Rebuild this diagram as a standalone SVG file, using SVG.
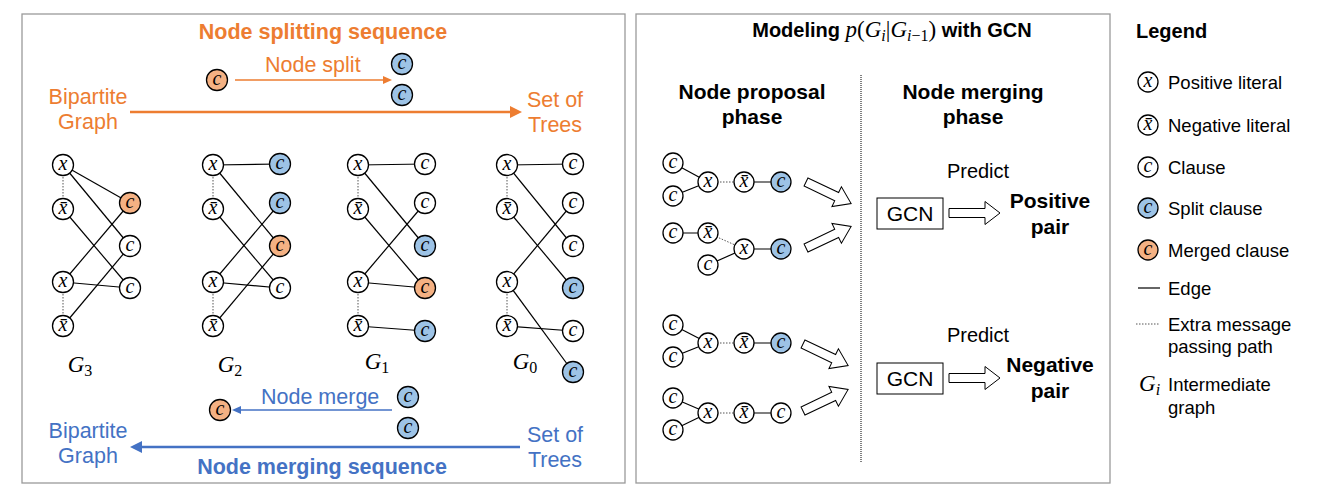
<svg xmlns="http://www.w3.org/2000/svg" xmlns:xlink="http://www.w3.org/1999/xlink" width="1323" height="498" viewBox="0 0 1323 498">
<style>
.n{fill:#fff;stroke:#000;stroke-width:1.3}
.nb{fill:#9DC3E6;stroke:#000;stroke-width:1.3}
.no{fill:#F4B183;stroke:#000;stroke-width:1.3}
.lt{font-family:"Liberation Serif","DejaVu Serif",serif;font-style:italic;font-size:20px;text-anchor:middle;fill:#000}
.e{stroke:#000;stroke-width:1.2;fill:none}
.d{stroke:#555;stroke-width:1;stroke-dasharray:1.5 1.5;fill:none}
.sans{font-family:"Liberation Sans",Arial,sans-serif}
.or{fill:#ED7D31;font-size:21.5px}
.bl{fill:#4472C4;font-size:21.5px}
.b{font-weight:bold}
.mid{text-anchor:middle}
.lg{font-size:18.5px;fill:#000}
.ha{fill:#fff;stroke:#000;stroke-width:1}
.math{font-family:"Liberation Serif","DejaVu Serif",serif;font-style:italic;font-weight:normal}
.up{font-style:normal}
.panel{fill:none;stroke:#9a9a9a;stroke-width:1.3}
</style>
<defs>
<marker id="aoT" viewBox="0 0 12 12" refX="4" refY="6" markerWidth="12" markerHeight="12" markerUnits="userSpaceOnUse" orient="auto"><path d="M0,0 L12,6 L0,12 z" fill="#ED7D31"/></marker>
<marker id="aot" viewBox="0 0 9 8" refX="3" refY="4" markerWidth="9" markerHeight="8" markerUnits="userSpaceOnUse" orient="auto"><path d="M0,0 L9,4 L0,8 z" fill="#ED7D31"/></marker>
<marker id="abT" viewBox="0 0 12 12" refX="4" refY="6" markerWidth="12" markerHeight="12" markerUnits="userSpaceOnUse" orient="auto"><path d="M0,0 L12,6 L0,12 z" fill="#4472C4"/></marker>
<marker id="abt" viewBox="0 0 9 8" refX="3" refY="4" markerWidth="9" markerHeight="8" markerUnits="userSpaceOnUse" orient="auto"><path d="M0,0 L9,4 L0,8 z" fill="#4472C4"/></marker>
<path id="hollow" class="ha" d="M0,-4.5 H34 V-11 L50,0 L34,11 V4.5 H0 Z"/>
<path id="hollow2" class="ha" d="M0,-4.5 H36 V-11.5 L51,0 L36,11.5 V4.5 H0 Z"/>
</defs>

<rect class="panel" x="22" y="14" width="603" height="469"/>
<rect class="panel" x="636" y="14" width="474" height="469"/>
<line x1="861" y1="75" x2="861" y2="463" stroke="#000" stroke-width="1" stroke-dasharray="1 1"/>

<!-- Left panel texts -->
<text class="sans or b mid" x="323" y="39">Node splitting sequence</text>
<text class="sans or" x="265" y="72">Node split</text>
<text class="sans or mid" x="88" y="104">Bipartite</text>
<text class="sans or mid" x="88" y="129">Graph</text>
<text class="sans or mid" x="555" y="107">Set of</text>
<text class="sans or mid" x="555" y="132">Trees</text>
<text class="sans bl" x="261" y="404">Node merge</text>
<text class="sans bl mid" x="88" y="438">Bipartite</text>
<text class="sans bl mid" x="88" y="463">Graph</text>
<text class="sans bl mid" x="555" y="442">Set of</text>
<text class="sans bl mid" x="555" y="467">Trees</text>
<text class="sans bl b mid" x="322" y="474">Node merging sequence</text>

<!-- Graph labels -->
<text class="math mid" font-size="23" x="80" y="372">G<tspan class="up" font-size="16" dy="4">3</tspan></text>
<text class="math mid" font-size="23" x="230" y="372">G<tspan class="up" font-size="16" dy="4">2</tspan></text>
<text class="math mid" font-size="23" x="377" y="369">G<tspan class="up" font-size="16" dy="4">1</tspan></text>
<text class="math mid" font-size="23" x="525" y="369">G<tspan class="up" font-size="16" dy="4">0</tspan></text>

<!-- Middle panel texts -->
<text class="sans b mid" font-size="20" x="892" y="37">Modeling <tspan class="math" font-size="23">p</tspan><tspan class="math up" font-size="23">(</tspan><tspan class="math" font-size="23">G</tspan><tspan class="math" font-size="16" dy="4">i</tspan><tspan class="math up" font-size="23" dy="-4">|</tspan><tspan class="math" font-size="23">G</tspan><tspan class="math" font-size="16" dy="4">i</tspan><tspan class="math up" font-size="16">−1</tspan><tspan class="math up" font-size="23" dy="-4">)</tspan> with GCN</text>
<text class="sans b mid" font-size="21" x="752" y="99">Node proposal</text>
<text class="sans b mid" font-size="21" x="752" y="124">phase</text>
<text class="sans b mid" font-size="21" x="973" y="99">Node merging</text>
<text class="sans b mid" font-size="21" x="973" y="124">phase</text>
<text class="sans mid" font-size="20" x="978" y="178">Predict</text>
<text class="sans b mid" font-size="21" x="1050" y="208">Positive</text>
<text class="sans b mid" font-size="21" x="1050" y="234">pair</text>
<text class="sans mid" font-size="20" x="978" y="342">Predict</text>
<text class="sans b mid" font-size="21" x="1050" y="372">Negative</text>
<text class="sans b mid" font-size="21" x="1050" y="398">pair</text>

<g id="gcn1"><rect x="877" y="198" width="66" height="31" fill="#fff" stroke="#000" stroke-width="1"/><text class="sans mid" font-size="21" x="910" y="221">GCN</text></g>
<g id="gcn2"><rect x="877" y="363" width="66" height="31" fill="#fff" stroke="#000" stroke-width="1"/><text class="sans mid" font-size="21" x="910" y="386">GCN</text></g>

<!-- Connectors -->
<g id="connectors">
<line x1="130" y1="112" x2="514" y2="112" stroke="#ED7D31" stroke-width="2.5" marker-end="url(#aoT)"/>
<line x1="235" y1="80" x2="386" y2="80" stroke="#ED7D31" stroke-width="1.5" marker-end="url(#aot)"/>
<line x1="392" y1="410" x2="238" y2="410" stroke="#4472C4" stroke-width="1.5" marker-end="url(#abt)"/>
<line x1="520" y1="447" x2="138" y2="447" stroke="#4472C4" stroke-width="2.5" marker-end="url(#abT)"/>
<!-- G3 -->
<line class="e" x1="63" y1="165" x2="130" y2="203"/><line class="e" x1="63" y1="165" x2="130" y2="246"/>
<line class="e" x1="63" y1="209" x2="130" y2="288"/><line class="e" x1="63" y1="282" x2="130" y2="203"/>
<line class="e" x1="63" y1="282" x2="130" y2="288"/><line class="e" x1="63" y1="326" x2="130" y2="246"/>
<line class="d" x1="63" y1="165" x2="63" y2="209"/><line class="d" x1="63" y1="282" x2="63" y2="326"/>
<!-- G2 -->
<line class="e" x1="213" y1="165" x2="280" y2="164"/><line class="e" x1="213" y1="165" x2="280" y2="246"/>
<line class="e" x1="213" y1="209" x2="280" y2="288"/><line class="e" x1="213" y1="282" x2="280" y2="203"/>
<line class="e" x1="213" y1="282" x2="280" y2="288"/><line class="e" x1="213" y1="326" x2="280" y2="246"/>
<line class="d" x1="213" y1="165" x2="213" y2="209"/><line class="d" x1="213" y1="282" x2="213" y2="326"/>
<!-- G1 -->
<line class="e" x1="358" y1="165" x2="425" y2="164"/><line class="e" x1="358" y1="165" x2="425" y2="246"/>
<line class="e" x1="358" y1="209" x2="425" y2="288"/><line class="e" x1="358" y1="282" x2="425" y2="203"/>
<line class="e" x1="358" y1="282" x2="425" y2="288"/><line class="e" x1="358" y1="326" x2="425" y2="331"/>
<line class="d" x1="358" y1="165" x2="358" y2="209"/><line class="d" x1="358" y1="282" x2="358" y2="326"/>
<!-- G0 -->
<line class="e" x1="507" y1="165" x2="573" y2="164"/><line class="e" x1="507" y1="165" x2="573" y2="246"/>
<line class="e" x1="507" y1="209" x2="573" y2="288"/><line class="e" x1="507" y1="282" x2="573" y2="203"/>
<line class="e" x1="507" y1="282" x2="573" y2="372"/><line class="e" x1="507" y1="326" x2="573" y2="331"/>
<line class="d" x1="507" y1="165" x2="507" y2="209"/><line class="d" x1="507" y1="282" x2="507" y2="326"/>
<!-- middle groups -->
<line class="e" x1="673" y1="163" x2="708" y2="182"/><line class="e" x1="673" y1="196" x2="708" y2="182"/>
<line class="d" x1="708" y1="182" x2="744" y2="182"/><line class="e" x1="744" y1="182" x2="781" y2="182"/>
<line class="e" x1="673" y1="233" x2="708" y2="233"/><line class="d" x1="708" y1="233" x2="744" y2="249"/>
<line class="e" x1="708" y1="265" x2="744" y2="249"/><line class="e" x1="744" y1="249" x2="781" y2="249"/>
<line class="e" x1="673" y1="325" x2="708" y2="343"/><line class="e" x1="673" y1="357" x2="708" y2="343"/>
<line class="d" x1="708" y1="343" x2="744" y2="343"/><line class="e" x1="744" y1="343" x2="781" y2="343"/>
<line class="e" x1="673" y1="398" x2="708" y2="413"/><line class="e" x1="673" y1="430" x2="708" y2="413"/>
<line class="d" x1="708" y1="413" x2="744" y2="413"/><line class="e" x1="744" y1="413" x2="781" y2="413"/>
<use xlink:href="#hollow" transform="translate(806,182) rotate(25.5)"/>
<use xlink:href="#hollow" transform="translate(806,248) rotate(-25.5)"/>
<use xlink:href="#hollow" transform="translate(803,344) rotate(25.5)"/>
<use xlink:href="#hollow" transform="translate(803,411) rotate(-25.5)"/>
<use xlink:href="#hollow2" transform="translate(949,213)"/>
<use xlink:href="#hollow2" transform="translate(949,378)"/>
</g>

<!-- Top / bottom small nodes -->
<g id="split-src"><circle class="no" cx="217" cy="80" r="10.5"/><text class="lt" x="217" y="85">c</text></g>
<g id="split-dst1"><circle class="nb" cx="402" cy="64" r="10.5"/><text class="lt" x="402" y="69">c</text></g>
<g id="split-dst2"><circle class="nb" cx="402" cy="95" r="10.5"/><text class="lt" x="402" y="100">c</text></g>
<g id="merge-src1"><circle class="nb" cx="408" cy="397" r="10.5"/><text class="lt" x="408" y="402">c</text></g>
<g id="merge-src2"><circle class="nb" cx="408" cy="428" r="10.5"/><text class="lt" x="408" y="433">c</text></g>
<g id="merge-dst"><circle class="no" cx="220" cy="410" r="10.5"/><text class="lt" x="220" y="415">c</text></g>

<!-- G3 nodes -->
<g id="g3-x1"><circle class="n" cx="63" cy="165" r="10.5"/><text class="lt" x="63" y="170">x</text></g>
<g id="g3-nx1"><circle class="n" cx="63" cy="209" r="10.5"/><text class="lt" x="63" y="214">x&#772;</text></g>
<g id="g3-x2"><circle class="n" cx="63" cy="282" r="10.5"/><text class="lt" x="63" y="287">x</text></g>
<g id="g3-nx2"><circle class="n" cx="63" cy="326" r="10.5"/><text class="lt" x="63" y="331">x&#772;</text></g>
<g id="g3-c1"><circle class="no" cx="130" cy="203" r="10.5"/><text class="lt" x="130" y="208">c</text></g>
<g id="g3-c2"><circle class="n" cx="130" cy="246" r="10.5"/><text class="lt" x="130" y="251">c</text></g>
<g id="g3-c3"><circle class="n" cx="130" cy="288" r="10.5"/><text class="lt" x="130" y="293">c</text></g>
<!-- G2 nodes -->
<g id="g2-x1"><circle class="n" cx="213" cy="165" r="10.5"/><text class="lt" x="213" y="170">x</text></g>
<g id="g2-nx1"><circle class="n" cx="213" cy="209" r="10.5"/><text class="lt" x="213" y="214">x&#772;</text></g>
<g id="g2-x2"><circle class="n" cx="213" cy="282" r="10.5"/><text class="lt" x="213" y="287">x</text></g>
<g id="g2-nx2"><circle class="n" cx="213" cy="326" r="10.5"/><text class="lt" x="213" y="331">x&#772;</text></g>
<g id="g2-c1"><circle class="nb" cx="280" cy="164" r="10.5"/><text class="lt" x="280" y="169">c</text></g>
<g id="g2-c2"><circle class="nb" cx="280" cy="203" r="10.5"/><text class="lt" x="280" y="208">c</text></g>
<g id="g2-c3"><circle class="no" cx="280" cy="246" r="10.5"/><text class="lt" x="280" y="251">c</text></g>
<g id="g2-c4"><circle class="n" cx="280" cy="288" r="10.5"/><text class="lt" x="280" y="293">c</text></g>
<!-- G1 nodes -->
<g id="g1-x1"><circle class="n" cx="358" cy="165" r="10.5"/><text class="lt" x="358" y="170">x</text></g>
<g id="g1-nx1"><circle class="n" cx="358" cy="209" r="10.5"/><text class="lt" x="358" y="214">x&#772;</text></g>
<g id="g1-x2"><circle class="n" cx="358" cy="282" r="10.5"/><text class="lt" x="358" y="287">x</text></g>
<g id="g1-nx2"><circle class="n" cx="358" cy="326" r="10.5"/><text class="lt" x="358" y="331">x&#772;</text></g>
<g id="g1-c1"><circle class="n" cx="425" cy="164" r="10.5"/><text class="lt" x="425" y="169">c</text></g>
<g id="g1-c2"><circle class="n" cx="425" cy="203" r="10.5"/><text class="lt" x="425" y="208">c</text></g>
<g id="g1-c3"><circle class="nb" cx="425" cy="246" r="10.5"/><text class="lt" x="425" y="251">c</text></g>
<g id="g1-c4"><circle class="no" cx="425" cy="288" r="10.5"/><text class="lt" x="425" y="293">c</text></g>
<g id="g1-c5"><circle class="nb" cx="425" cy="331" r="10.5"/><text class="lt" x="425" y="336">c</text></g>
<!-- G0 nodes -->
<g id="g0-x1"><circle class="n" cx="507" cy="165" r="10.5"/><text class="lt" x="507" y="170">x</text></g>
<g id="g0-nx1"><circle class="n" cx="507" cy="209" r="10.5"/><text class="lt" x="507" y="214">x&#772;</text></g>
<g id="g0-x2"><circle class="n" cx="507" cy="282" r="10.5"/><text class="lt" x="507" y="287">x</text></g>
<g id="g0-nx2"><circle class="n" cx="507" cy="326" r="10.5"/><text class="lt" x="507" y="331">x&#772;</text></g>
<g id="g0-c1"><circle class="n" cx="573" cy="164" r="10.5"/><text class="lt" x="573" y="169">c</text></g>
<g id="g0-c2"><circle class="n" cx="573" cy="203" r="10.5"/><text class="lt" x="573" y="208">c</text></g>
<g id="g0-c3"><circle class="n" cx="573" cy="246" r="10.5"/><text class="lt" x="573" y="251">c</text></g>
<g id="g0-c4"><circle class="nb" cx="573" cy="288" r="10.5"/><text class="lt" x="573" y="293">c</text></g>
<g id="g0-c5"><circle class="n" cx="573" cy="331" r="10.5"/><text class="lt" x="573" y="336">c</text></g>
<g id="g0-c6"><circle class="nb" cx="573" cy="372" r="10.5"/><text class="lt" x="573" y="377">c</text></g>

<!-- Middle panel nodes -->
<g id="pa-c1"><circle class="n" cx="673" cy="163" r="10"/><text class="lt" x="673" y="168">c</text></g>
<g id="pa-c2"><circle class="n" cx="673" cy="196" r="10"/><text class="lt" x="673" y="201">c</text></g>
<g id="pa-x"><circle class="n" cx="708" cy="182" r="10"/><text class="lt" x="708" y="187">x</text></g>
<g id="pa-nx"><circle class="n" cx="744" cy="182" r="10"/><text class="lt" x="744" y="187">x&#772;</text></g>
<g id="pa-c3"><circle class="nb" cx="781" cy="182" r="10"/><text class="lt" x="781" y="187">c</text></g>
<g id="pb-c1"><circle class="n" cx="673" cy="233" r="10"/><text class="lt" x="673" y="238">c</text></g>
<g id="pb-nx"><circle class="n" cx="708" cy="233" r="10"/><text class="lt" x="708" y="238">x&#772;</text></g>
<g id="pb-c2"><circle class="n" cx="708" cy="265" r="10"/><text class="lt" x="708" y="270">c</text></g>
<g id="pb-x"><circle class="n" cx="744" cy="249" r="10"/><text class="lt" x="744" y="254">x</text></g>
<g id="pb-c3"><circle class="nb" cx="781" cy="249" r="10"/><text class="lt" x="781" y="254">c</text></g>
<g id="pc-c1"><circle class="n" cx="673" cy="325" r="10"/><text class="lt" x="673" y="330">c</text></g>
<g id="pc-c2"><circle class="n" cx="673" cy="357" r="10"/><text class="lt" x="673" y="362">c</text></g>
<g id="pc-x"><circle class="n" cx="708" cy="343" r="10"/><text class="lt" x="708" y="348">x</text></g>
<g id="pc-nx"><circle class="n" cx="744" cy="343" r="10"/><text class="lt" x="744" y="348">x&#772;</text></g>
<g id="pc-c3"><circle class="nb" cx="781" cy="343" r="10"/><text class="lt" x="781" y="348">c</text></g>
<g id="pd-c1"><circle class="n" cx="673" cy="398" r="10"/><text class="lt" x="673" y="403">c</text></g>
<g id="pd-c2"><circle class="n" cx="673" cy="430" r="10"/><text class="lt" x="673" y="435">c</text></g>
<g id="pd-x"><circle class="n" cx="708" cy="413" r="10"/><text class="lt" x="708" y="418">x</text></g>
<g id="pd-nx"><circle class="n" cx="744" cy="413" r="10"/><text class="lt" x="744" y="418">x&#772;</text></g>
<g id="pd-c3"><circle class="n" cx="781" cy="413" r="10"/><text class="lt" x="781" y="418">c</text></g>

<!-- Legend -->
<g id="legend">
<text class="sans b" font-size="20" x="1136" y="38">Legend</text>
<g id="lg-x"><circle class="n" cx="1148" cy="82" r="10"/><text class="lt" x="1148" y="87">x</text><text class="sans lg" x="1168" y="88.5">Positive literal</text></g>
<g id="lg-nx"><circle class="n" cx="1148" cy="125" r="10"/><text class="lt" x="1148" y="130">x&#772;</text><text class="sans lg" x="1168" y="131.5">Negative literal</text></g>
<g id="lg-c"><circle class="n" cx="1148" cy="167" r="10"/><text class="lt" x="1148" y="172">c</text><text class="sans lg" x="1168" y="173.5">Clause</text></g>
<g id="lg-cs"><circle class="nb" cx="1148" cy="208" r="10"/><text class="lt" x="1148" y="213">c</text><text class="sans lg" x="1168" y="214.5">Split clause</text></g>
<g id="lg-cm"><circle class="no" cx="1148" cy="250" r="10"/><text class="lt" x="1148" y="255">c</text><text class="sans lg" x="1168" y="256.5">Merged clause</text></g>
<g id="lg-edge"><line class="e" x1="1138" y1="288" x2="1160" y2="288"/><text class="sans lg" x="1168" y="294.5">Edge</text></g>
<g id="lg-extra"><line class="d" x1="1136" y1="324" x2="1159" y2="324"/><text class="sans lg" x="1168" y="330.5">Extra message</text><text class="sans lg" x="1168" y="353">passing path</text></g>
<g id="lg-gi"><text class="math" font-size="23" x="1139" y="391">G<tspan font-size="16" dy="4">i</tspan></text><text class="sans lg" x="1168" y="391">Intermediate</text><text class="sans lg" x="1168" y="414">graph</text></g>
</g>
</svg>
